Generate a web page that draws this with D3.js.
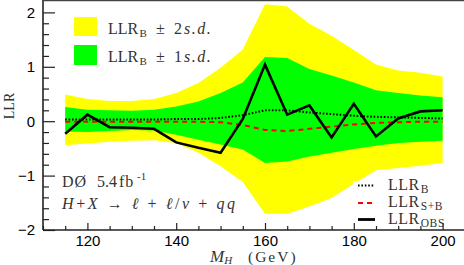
<!DOCTYPE html>
<html><head><meta charset="utf-8">
<script src="https://cdn.jsdelivr.net/npm/d3@7"></script>
<style>html,body{margin:0;padding:0;background:#fff;}svg{display:block;}</style>
</head><body><div id="chart"></div>
<script>
const masses = [115,120,125,130,135,140,145,150,155,160,165,170,175,180,185,190,195,200];
const plus2sd  = [0.49,0.41,0.37,0.37,0.41,0.52,0.70,0.98,1.32,2.15,2.11,1.79,1.57,1.31,1.04,0.93,0.89,0.82];
const plus1sd  = [0.26,0.21,0.20,0.19,0.21,0.27,0.36,0.52,0.71,1.18,1.16,0.96,0.84,0.71,0.57,0.52,0.47,0.44];
const minus1sd = [-0.19,-0.20,-0.18,-0.16,-0.17,-0.25,-0.34,-0.43,-0.52,-0.77,-0.74,-0.65,-0.58,-0.51,-0.45,-0.40,-0.38,-0.36];
const minus2sd = [-0.44,-0.41,-0.38,-0.36,-0.35,-0.40,-0.58,-0.83,-1.12,-1.70,-1.70,-1.57,-1.41,-1.15,-0.90,-0.86,-0.82,-0.77];
const llrB   = [0.03,0.03,0.03,0.03,0.03,0.04,0.04,0.06,0.11,0.20,0.20,0.16,0.13,0.10,0.08,0.07,0.06,0.05];
const llrSB  = [-0.01,-0.01,-0.01,-0.01,-0.01,-0.01,-0.01,-0.02,-0.07,-0.16,-0.18,-0.14,-0.10,-0.06,-0.03,-0.02,-0.01,-0.01];
const llrObs = [-0.23,0.12,-0.11,-0.12,-0.14,-0.39,-0.49,-0.58,0.04,1.04,0.12,0.29,-0.30,0.32,-0.28,0.05,0.18,0.20];
const xTicks = [120,140,160,180,200];
const yTicks = [-2,-1,0,1,2];

const W = 464, H = 265;
const svg = d3.select("#chart").append("svg").attr("width", W).attr("height", H);
const x = d3.scaleLinear().domain([110, 205]).range([43, 464.8]);
const y = d3.scaleLinear().domain([-2, 2.2]).range([230, 1.5]);

const pts = masses.map((m,i)=>({m, p2:plus2sd[i], p1:plus1sd[i], m1:minus1sd[i], m2:minus2sd[i], b:llrB[i], sb:llrSB[i], o:llrObs[i]}));

const area2 = d3.area().x(d=>x(d.m)).y0(d=>y(d.m2)).y1(d=>y(d.p2));
const area1 = d3.area().x(d=>x(d.m)).y0(d=>y(d.m1)).y1(d=>y(d.p1));
svg.append("path").datum(pts).attr("d", area2).attr("fill", "#ffff00");
svg.append("path").datum(pts).attr("d", area1).attr("fill", "#00ff00");

const line = k => d3.line().x(d=>x(d.m)).y(d=>y(d[k]));
svg.append("path").datum(pts).attr("d", line("b")).attr("fill","none").attr("stroke","#000").attr("stroke-width",2).attr("stroke-dasharray","1.6,1.8");
svg.append("path").datum(pts).attr("d", line("sb")).attr("fill","none").attr("stroke","#ff0000").attr("stroke-width",2).attr("stroke-dasharray","5,4");
svg.append("path").datum(pts).attr("d", line("o")).attr("fill","none").attr("stroke","#000").attr("stroke-width",2.6).attr("stroke-linejoin","miter");

// legend box bottom right (white)
svg.append("rect").attr("x",353).attr("y",181).attr("width",W-353).attr("height",230-181).attr("fill","#fff");

// axes
const axCol = "#222";
const gx = svg.append("g").attr("transform", `translate(0,230)`);
gx.call(d3.axisBottom(x).tickValues(xTicks).tickSize(-7).tickPadding(5.5).tickFormat(d3.format("d")));
const gxm = svg.append("g").attr("transform", `translate(0,230)`);
gxm.call(d3.axisBottom(x).tickValues(d3.range(110,206,5).filter(v=>v%20!==0)).tickSize(-4).tickFormat(""));
const gy = svg.append("g").attr("transform", `translate(43,0)`);
gy.call(d3.axisLeft(y).tickValues(yTicks).tickSize(-12).tickPadding(8).tickFormat(d3.format("d")));
const gym = svg.append("g").attr("transform", `translate(43,0)`);
gym.call(d3.axisLeft(y).tickValues(d3.range(-20,22,2).map(v=>v/10).filter(v=>Math.abs(v-Math.round(v))>1e-6)).tickSize(-6).tickFormat(""));
[gx,gxm,gy,gym].forEach(g=>{
  g.select(".domain").remove();
  g.selectAll("line").attr("stroke", axCol).attr("stroke-width",1.2);
  g.selectAll("text").attr("font-family","'Liberation Sans', Arial, sans-serif").attr("font-size",15).attr("fill","#000");
});
svg.append("line").attr("x1",43).attr("x2",W).attr("y1",230).attr("y2",230).attr("stroke",axCol).attr("stroke-width",1.6);
svg.append("line").attr("x1",43).attr("x2",43).attr("y1",0).attr("y2",230).attr("stroke",axCol).attr("stroke-width",1.6);
svg.append("line").attr("x1",43).attr("x2",W).attr("y1",0.6).attr("y2",0.6).attr("stroke","#444").attr("stroke-width",1.2);

const serif = "'Liberation Serif', 'DejaVu Serif', serif";
const tcol = "#333";

// top-left legend
svg.append("rect").attr("x",74).attr("y",17).attr("width",23).attr("height",19).attr("fill","#ffff00");
svg.append("rect").attr("x",74).attr("y",45).attr("width",23).attr("height",20).attr("fill","#00ff00");
function bandLabel(yb, n){
  const t = svg.append("text").attr("y",yb).attr("font-family",serif).attr("font-size",16).attr("fill",tcol);
  t.append("tspan").attr("x",108).text("LLR");
  t.append("tspan").attr("x",139.5).attr("font-size",11).attr("dy",3).text("B");
  t.append("tspan").attr("x",156).attr("dy",-3).text("\u00B1");
  t.append("tspan").attr("x",174).text(n);
  t.append("tspan").attr("x",184).attr("font-style","italic").attr("letter-spacing",1.5).text("s.d.");
}
bandLabel(33.5, 2);
bandLabel(61.5, 1);

// bottom-left labels
const t1 = svg.append("text").attr("y",186.5).attr("font-family",serif).attr("font-size",16).attr("fill",tcol);
t1.append("tspan").attr("x",62).attr("letter-spacing",1).text("D\u00D8");
t1.append("tspan").attr("x",97).text("5.4");
t1.append("tspan").attr("x",119).attr("letter-spacing",1).text("fb");
t1.append("tspan").attr("x",137).attr("font-size",11).attr("dy",-7).text("-1");
const t2 = svg.append("text").attr("x",62).attr("y",208.5).attr("font-family",serif).attr("font-size",16).attr("fill",tcol)
  .attr("textLength",173).attr("lengthAdjust","spacing");
t2.append("tspan").attr("font-style","italic").text("H");
t2.append("tspan").text("+");
t2.append("tspan").attr("font-style","italic").text("X");
t2.append("tspan").text(" \u2192 ");
t2.append("tspan").attr("font-style","italic").text("\u2113");
t2.append("tspan").text(" + ");
t2.append("tspan").attr("font-style","italic").text("\u2113");
t2.append("tspan").text("/");
t2.append("tspan").attr("font-style","italic").text("\u03BD");
t2.append("tspan").text(" + ");
t2.append("tspan").attr("font-style","italic").text("qq");

// bottom-right legend
const legItems = [
  {sub:"B", y:190, stroke:"#000", w:2, dash:"1.6,1.8", ly:185.5},
  {sub:"S+B", y:207, stroke:"#ff0000", w:2, dash:"5,4", ly:203},
  {sub:"OBS", y:224, stroke:"#000", w:2.8, dash:null, ly:219.5}
];
legItems.forEach(it=>{
  const l = svg.append("line").attr("x1",358).attr("x2",375).attr("y1",it.ly).attr("y2",it.ly)
    .attr("stroke",it.stroke).attr("stroke-width",it.w);
  if (it.dash) l.attr("stroke-dasharray",it.dash);
  const t = svg.append("text").attr("x",388).attr("y",it.y).attr("font-family",serif).attr("font-size",16).attr("fill",tcol);
  t.append("tspan").attr("letter-spacing",0.5).text("LLR");
  t.append("tspan").attr("font-size",11.5).attr("dy",3).attr("dx",1).attr("letter-spacing",0.6).text(it.sub);
});

// axis titles
const xt = svg.append("text").attr("x",210).attr("y",262).attr("font-family",serif).attr("font-size",15.5).attr("fill",tcol);
xt.append("tspan").attr("font-style","italic").attr("font-size",17).text("M");
xt.append("tspan").attr("font-style","italic").attr("font-size",11).attr("dy",2).text("H");
xt.append("tspan").attr("x",248).attr("dy",-2).attr("letter-spacing",2).text("(GeV)");
svg.append("text").attr("transform","translate(14,106) rotate(-90)").attr("text-anchor","middle")
  .attr("font-family",serif).attr("font-size",14).attr("fill",tcol).text("LLR");
</script>
</body></html>
